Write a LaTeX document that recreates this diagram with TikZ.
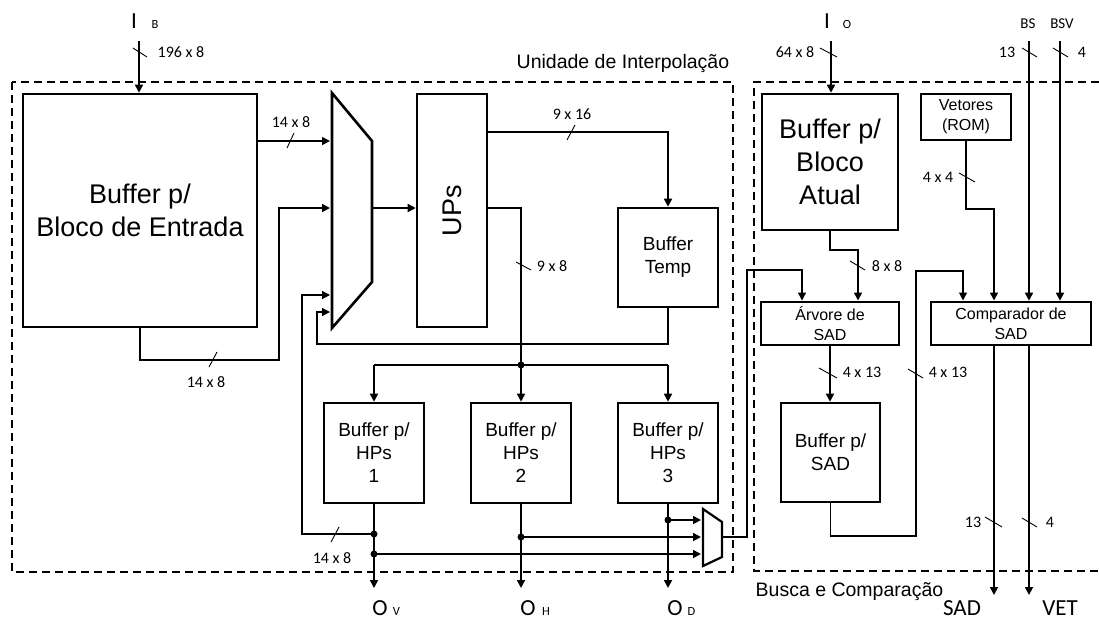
\documentclass[tikz,border=0pt]{standalone}
\usepackage{fontspec}
\setmainfont{Liberation Sans}
\newfontfamily\calibri{Carlito}
\usetikzlibrary{arrows.meta}
\begin{document}
\begin{tikzpicture}[x=1pt,y=-1pt,
  box/.style={draw, line width=2.6pt, inner sep=0pt, align=center, font=\fontsize{19}{23}\selectfont},
  bigtxt/.style={font=\fontsize{27}{33}\selectfont},
  midtxt/.style={font=\fontsize{16}{20}\selectfont},
  wire/.style={line width=1.7pt},
  thinw/.style={line width=1.2pt},
  arr/.style={-{Triangle[length=8pt,width=8pt]}},
  tickm/.style={line width=0.9pt},
  buslbl/.style={font=\calibri\fontsize{16}{16}\selectfont, inner sep=0pt},
  sig/.style={font=\calibri\fontsize{23}{23}\selectfont, inner sep=0pt, anchor=base},
  subl/.style={font=\calibri\fontsize{12.5}{12.5}\selectfont, inner sep=0pt, anchor=base},
  sigs/.style={font=\calibri\fontsize{15}{15}\selectfont, inner sep=0pt, anchor=base},
  jdot/.style={circle, fill, inner sep=0pt, minimum size=7pt},
  myframe/.style={line width=1.4pt, dash pattern=on 8pt off 5pt},
  mytitle/.style={font=\fontsize{19.5}{20}\selectfont, inner sep=0pt, anchor=base west},
  muxline/.style={line width=2.6pt, line join=miter},
]
\useasboundingbox (0,0) rectangle (1099,619);

% frames
\draw[myframe] (12,82) rectangle (733,572);
\draw[myframe] (1099,82) -- (754,82) -- (754,571) -- (1099,571);
\node[mytitle] (tUI) at (516.5,68) {Unidade de Interpolação};
\node[mytitle] (tBC) at (755.5,596) {Busca e Comparação};

% boxes
\node[box, bigtxt, minimum width=234pt, minimum height=233pt] (bin) at (140,210.5) {Buffer p/\\Bloco de Entrada};
\node[box, minimum width=70pt, minimum height=233pt] (ups) at (452,210.5) {};
\node[bigtxt, rotate=90, inner sep=0pt] (upsT) at (ups.center) {UPs};
\node[box, minimum width=100pt, minimum height=99pt] (btemp) at (668,257.5) {Buffer\\Temp};
\node[box, minimum width=100pt, minimum height=100pt] (hp1) at (374,453) {Buffer p/\\HPs\\1};
\node[box, minimum width=100pt, minimum height=100pt] (hp2) at (521,453) {Buffer p/\\HPs\\2};
\node[box, minimum width=100pt, minimum height=100pt] (hp3) at (668,453) {Buffer p/\\HPs\\3};
\node[box, bigtxt, minimum width=136pt, minimum height=136pt] (bat) at (830,162) {Buffer p/\\Bloco\\Atual};
\node[box, midtxt, minimum width=90pt, minimum height=46pt] (vet) at (966,117) {Vetores\\(ROM)};
\node[box, midtxt, minimum width=138pt, minimum height=43pt] (arv) at (830,323.5) {Árvore de\\SAD};
\node[box, midtxt, minimum width=160pt, minimum height=43pt] (cmp) at (1011,323.5) {Comparador de\\SAD};
\node[box, minimum width=99pt, minimum height=99pt] (bsad) at (830.5,452.5) {Buffer p/\\SAD};

% multiplexers
\draw[muxline] (332,93) -- (372,141) -- (372,282) -- (332,328) -- cycle;
\draw[muxline, line width=2.2pt] (703,509) -- (722,522) -- (722,557) -- (703,566) -- cycle;

% coordinates
\coordinate (inB) at (139,41);
\coordinate (m1) at (330,141);
\coordinate (m2) at (330,208);
\coordinate (m3) at (330,295);
\coordinate (m4) at (330,312);
\coordinate (mo) at (372,208);
\coordinate (u1) at (487,132);
\coordinate (u2) at (487,208);
\coordinate (s1) at (701,520);
\coordinate (s2) at (701,537);
\coordinate (s3) at (701,554);
\coordinate (so) at (722,537);
\coordinate (a1) at (802,300.5);
\coordinate (a2) at (858,300.5);
\coordinate (c1) at (963,300.5);
\coordinate (c2) at (994,300.5);
\coordinate (inO) at (831,41);
\coordinate (bs) at (1029,41);
\coordinate (bsv) at (1060,41);
\coordinate (ov) at (374,588);
\coordinate (oh) at (521,588);
\coordinate (od) at (668,588);
\coordinate (oS) at (994,595);
\coordinate (oV) at (1029,595);

% junction dots
\node[jdot] (j) at (521,365) {};
\node[jdot] (d1) at (374,534) {};
\node[jdot] (d2) at (374,554) {};
\node[jdot] (d3) at (521,537) {};
\node[jdot] (d4) at (668,520) {};

% left part connectors
\draw[wire,arr] (inB) -- (inB |- bin.north);
\draw[wire,arr] (bin.east |- m1) -- (m1);
\draw[wire,arr] (bin.south) |- (279,360) -- (279,208) -- (m2);
\draw[thinw,arr] (d1.center) -| (302,295) -- (m3);
\draw[thinw,arr] (btemp.south) |- (317,344) |- (m4);
\draw[wire,arr] (mo) -- (mo -| ups.west);
\draw[wire,arr] (u1) -| (btemp.north);
\draw[wire] (u2) -| (521,300);
\draw[thinw] (521,300) -- (j.center);
\draw[wire] (hp1.north |- j) -- (hp3.north |- j);
\draw[wire,arr] (hp1.north |- j) -- (hp1.north);
\draw[wire,arr] (j.center) -- (hp2.north);
\draw[wire,arr] (hp3.north |- j) -- (hp3.north);
\draw[wire,arr] (hp1.south) -- (ov);
\draw[wire,arr] (hp2.south) -- (oh);
\draw[wire,arr] (hp3.south) -- (od);
\draw[wire,arr] (d4.center) -- (s1);
\draw[wire,arr] (d3.center) -- (s2);
\draw[wire,arr] (d2.center) -- (s3);
\draw[thinw,arr] (so) -| (747,270) -| (a1);

% right part connectors
\draw[wire,arr] (inO) -- (inO |- bat.north);
\draw[wire,arr] (bat.south) -- ++(0,19) -| (a2);
\draw[wire,arr] (vet.south) -- ++(0,68) -| (c2);
\draw[wire,arr] (bs) -- (bs |- cmp.north);
\draw[wire,arr] (bsv) -- (bsv |- cmp.north);
\draw[wire,arr] (arv.south) -- (arv.south |- bsad.north);
\draw[thinw,arr] (bsad.south) |- (916,536) |- (963,271) -- (c1);
\draw[wire,arr] (oS |- cmp.south) -- (oS);
\draw[wire,arr] (oV |- cmp.south) -- (oV);

% bus width marks
\draw[tickm] (133,48) -- (147,57);
\node[buslbl] (l1) at (181,52) {196 x 8};
\draw[tickm] (287,148) -- (294,133);
\node[buslbl] (l2) at (291,122) {14 x 8};
\draw[tickm] (209,367) -- (217,352);
\node[buslbl] (l3) at (206,382) {14 x 8};
\draw[tickm] (567,140) -- (575,125);
\node[buslbl] (l4) at (572,114) {9 x 16};
\draw[tickm] (516,262) -- (531,270);
\node[buslbl] (l5) at (552,266) {9 x 8};
\draw[tickm] (331,542) -- (339,527);
\node[buslbl] (l6) at (332,558) {14 x 8};
\draw[tickm] (820,48) -- (837,57);
\node[buslbl] (l7) at (795,52) {64 x 8};
\draw[tickm] (850,261) -- (865,270);
\node[buslbl] (l8) at (887,266) {8 x 8};
\draw[tickm] (959,173) -- (975,182);
\node[buslbl] (l9) at (938,177) {4 x 4};
\draw[tickm] (1022,48) -- (1037,57);
\node[buslbl] (l10) at (1007,52) {13};
\draw[tickm] (1053,48) -- (1068,57);
\node[buslbl] (l11) at (1082,52) {4};
\draw[tickm] (819,368) -- (837,378);
\node[buslbl] (l12) at (862,372) {4 x 13};
\draw[tickm] (908,369) -- (923,378);
\node[buslbl] (l13) at (948,372) {4 x 13};
\draw[tickm] (985,517) -- (1002,527);
\node[buslbl] (l14) at (973,522) {13};
\draw[tickm] (1022,518) -- (1037,527);
\node[buslbl] (l15) at (1050,522) {4};

% signal names
\node[sig] (nIB) at (134,28) {I};
\node[subl] (nIBs) at (155,28) {B};
\node[sig] (nIO) at (827,28) {I};
\node[subl] (nIOs) at (847,28) {O};
\node[sigs] (nBS) at (1028,28) {BS};
\node[sigs] (nBSV) at (1062,28) {BSV};
\node[sig] (nOV) at (380,615) {O};
\node[subl] (nOVs) at (396.5,615) {V};
\node[sig] (nOH) at (528,615) {O};
\node[subl] (nOHs) at (546,615) {H};
\node[sig] (nOD) at (675,615) {O};
\node[subl] (nODs) at (691.5,615) {D};
\node[sig] (nSAD) at (962,615) {SAD};
\node[sig] (nVET) at (1060,615) {VET};
\end{tikzpicture}
\end{document}
